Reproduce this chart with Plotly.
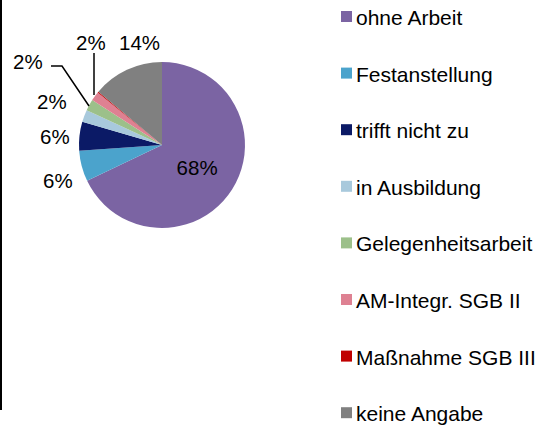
import plotly.graph_objects as go

categories = ["ohne Arbeit", "Festanstellung", "trifft nicht zu", "in Ausbildung",
              "Gelegenheitsarbeit", "AM-Integr. SGB II", "Maßnahme SGB III", "keine Angabe"]
values = [67.9, 6.0, 5.6, 2.4, 2.2, 1.8, 0.2, 13.9]
labels_shown = ["68%", "6%", "6%", "2%", "2%", "2%", "", "14%"]
colors = ["#7B64A3", "#4BA3CC", "#0B1A66", "#A8C9DC", "#9CC08A", "#DE8192", "#C00000", "#808080"]

W, H = 549, 428
FONT = "Arial, Liberation Sans, sans-serif"

# layout constants (pixel positions of the outside data labels, Excel-style)
label_pos = {1: (58, 181), 2: (55, 136), 3: (52, 102), 4: (28, 61), 5: (91, 43), 7: (139, 43)}
leader_paths = [
    [(51, 66), (62, 66), (89, 106)],   # to Gelegenheitsarbeit
    [(94, 53), (94, 95)],              # to AM-Integr. SGB II
]


def px(x):
    return x / W


def py(y):
    return (H - y) / H


fig = go.Figure()
cx, cy, r = 162, 145, 83
inside_text = [t if i == 0 else "" for i, t in enumerate(labels_shown)]
fig.add_trace(go.Pie(
    labels=categories, values=values, sort=False, direction="clockwise", rotation=0,
    marker=dict(colors=colors, line=dict(width=0)),
    text=inside_text, textinfo="text", textposition="inside",
    textfont=dict(family=FONT, size=20.5, color="#000000"),
    insidetextorientation="horizontal",
    showlegend=False,
    domain=dict(x=[px(cx - r), px(cx + r)], y=[py(cy + r), py(cy - r)]),
    hoverinfo="label+percent",
))

for i, (x, y) in label_pos.items():
    fig.add_annotation(xref="paper", yref="paper", x=px(x), y=py(y),
                       xanchor="center", yanchor="middle", text=labels_shown[i],
                       showarrow=False, font=dict(family=FONT, size=20.5, color="#000000"))

for pts in leader_paths:
    d = "M " + " L ".join(f"{px(x)},{py(y)}" for x, y in pts)
    fig.add_shape(type="path", xref="paper", yref="paper", path=d,
                  line=dict(color="#000000", width=1.5))

# manual legend
lx, ly0, dy = 346.5, 16.5, 56.6
for i, (c, col) in enumerate(zip(categories, colors)):
    yc = ly0 + i * dy
    fig.add_shape(type="rect", xref="paper", yref="paper",
                  x0=px(lx - 5.5), x1=px(lx + 5.5),
                  y0=py(yc + 5.5), y1=py(yc - 5.5),
                  fillcolor=col, line=dict(width=0))
    fig.add_annotation(xref="paper", yref="paper", x=px(354), y=py(yc + 1),
                       xanchor="left", yanchor="middle", text=c, showarrow=False,
                       font=dict(family=FONT, size=21, color="#000000"))

# left frame line
fig.add_shape(type="line", xref="paper", yref="paper", x0=px(1), x1=px(1),
              y0=py(410), y1=1, line=dict(color="#000000", width=2))

fig.update_layout(width=W, height=H, margin=dict(l=0, r=0, t=0, b=0),
                  paper_bgcolor="white", plot_bgcolor="white")
fig.write_html("out.html", config={"displayModeBar": False},
               post_script="document.body.style.margin='0';")
